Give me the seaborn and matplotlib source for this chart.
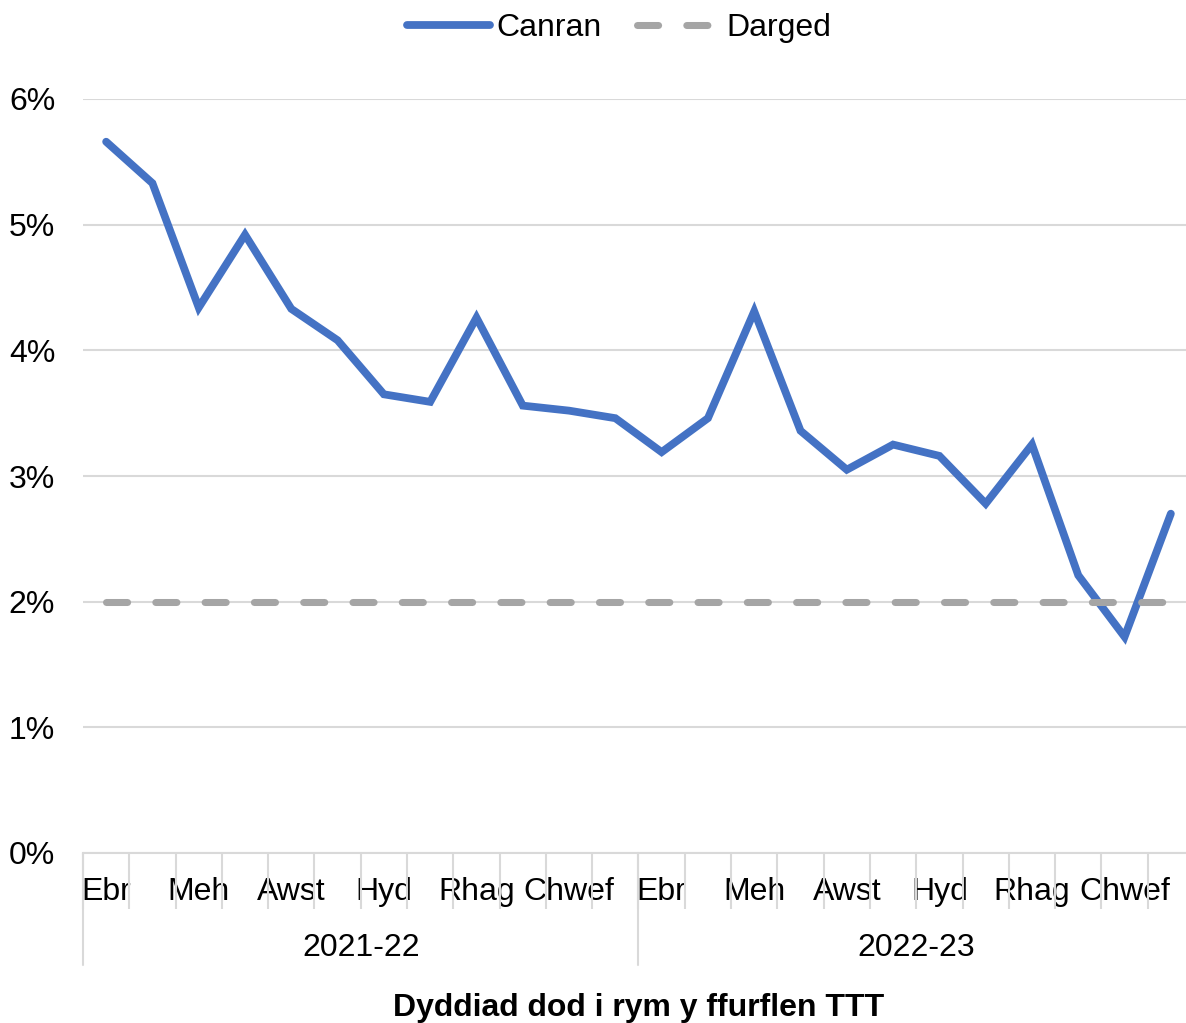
import matplotlib
matplotlib.use("Agg")
import matplotlib.pyplot as plt
import seaborn as sns
import pandas as pd
import numpy as np

months = ["Ebr", "Mai", "Meh", "Gorff", "Awst", "Medi", "Hyd", "Tach", "Rhag", "Ion", "Chwef", "Maw"]
years = ["2021-22", "2022-23"]
canran = [5.66, 5.33, 4.34, 4.92, 4.33, 4.08, 3.65, 3.59, 4.26, 3.56, 3.52, 3.46,
          3.19, 3.46, 4.31, 3.36, 3.05, 3.25, 3.16, 2.78, 3.25, 2.21, 1.72, 2.70]
darged = [2.0] * 24
yticks = [0, 1, 2, 3, 4, 5, 6]

sns.set_theme(style="white")
plt.rcParams['font.family'] = ['Liberation Sans', 'DejaVu Sans']
plt.rcParams['text.color'] = 'black'
plt.rcParams['xtick.color'] = 'black'
plt.rcParams['ytick.color'] = 'black'

FS = 23
labels = [m for y in years for m in months]
df = pd.DataFrame({"idx": np.arange(len(labels)), "Canran": canran, "Darged": darged})

W, H = 1186, 1023
L, R, T, B = 83, 1194, 99, 853
fig = plt.figure(figsize=(W / 100, H / 100), dpi=100)
ax = fig.add_axes([L / W, 1 - B / H, (R - L) / W, (B - T) / H])

sns.lineplot(data=df, x="idx", y="Canran", ax=ax, color="#4472C4", linewidth=5.6,
             label="Canran", solid_capstyle="round", solid_joinstyle="miter")
sns.lineplot(data=df, x="idx", y="Darged", ax=ax, color="#A5A5A5", linewidth=5.07,
             label="Darged", dashes=(3, 4))
for l in ax.get_lines():
    if l.get_label() == "Darged":
        l.set_dash_capstyle("round")

ax.set_xlim(-0.5, len(labels) - 0.5)
ax.set_ylim(0, 6)
ax.set_yticks(yticks)
ax.set_yticklabels([f"{v}%" for v in yticks], fontsize=FS)
ax.yaxis.grid(True, color="#D9D9D9", linewidth=1.5)
ax.set_axisbelow(True)
for s in ["left", "right", "top"]:
    ax.spines[s].set_visible(False)
ax.spines["bottom"].set_color("#D9D9D9")
ax.spines["bottom"].set_linewidth(1.5)
ax.tick_params(axis="y", length=0, pad=20)

shown = list(range(0, len(labels), 2))
ax.set_xticks(shown)
ax.set_xticklabels([labels[i] for i in shown], fontsize=FS)
ax.set_xticks(np.arange(-0.5, len(labels), 1), minor=True)
ax.tick_params(axis="x", which="both", bottom=True)
ax.tick_params(axis="x", which="major", length=0, pad=17)
ax.tick_params(axis="x", which="minor", length=40, color="#D9D9D9", width=1.5)
ax.set_xlabel("")
ax.set_ylabel("")

ph = B - T
trans = ax.get_xaxis_transform()
for k in range(len(years)):
    xpos = k * len(months) - 0.5
    ax.plot([xpos, xpos], [0, -(965 - B) / ph], transform=trans, color="#D9D9D9",
            linewidth=1.5, clip_on=False)
for k, yr in enumerate(years):
    ax.text(k * len(months) + (len(months) - 1) / 2, -(948 - B) / ph, yr, transform=trans,
            ha="center", va="center", fontsize=FS)

fig.text(639 / W, 1 - 1008 / H, "Dyddiad dod i rym y ffurflen TTT", ha="center", va="center",
         fontsize=FS, fontweight="bold")

ax.legend(loc="center", bbox_to_anchor=((619.5 - L) / (R - L), 1 + (T - 28) / ph), ncol=2,
          frameon=False, fontsize=FS, handlelength=2.6, columnspacing=1.1, handletextpad=0.2)

fig.savefig("out.png", dpi=100)
